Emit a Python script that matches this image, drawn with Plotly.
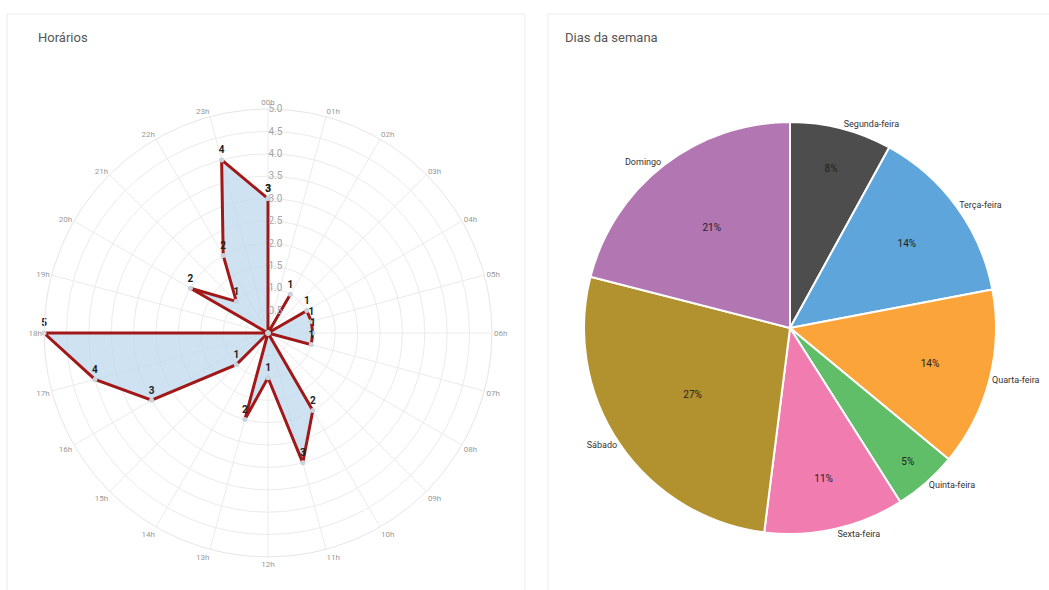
import plotly.graph_objects as go

# ---- data ----
hours = [f"{h:02d}h" for h in range(24)]
hour_counts = [3, 0, 1, 0, 1, 1, 1, 1, 0, 0, 2, 3, 1, 2, 0, 1, 3, 4, 5, 0, 2, 1, 2, 4]
radial_ticks = [0.5, 1.0, 1.5, 2.0, 2.5, 3.0, 3.5, 4.0, 4.5, 5.0]

days = ["Segunda-feira", "Terça-feira", "Quarta-feira", "Quinta-feira",
        "Sexta-feira", "Sábado", "Domingo"]
day_pct = [8, 14, 14, 5, 11, 27, 21]
day_colors = ["#4D4D4D", "#5DA5DA", "#FAA43A", "#60BD68", "#F17CB0", "#B2912F", "#B276B2"]

W, H = 1049, 590
FONT = "Roboto"

fig = go.Figure()

# radar
r_closed = hour_counts + hour_counts[:1]
th_closed = hours + hours[:1]
txt = [str(v) if v else "" for v in r_closed]
fig.add_trace(go.Scatterpolar(
    r=r_closed, theta=th_closed, mode="lines+markers+text",
    fill="toself", fillcolor="rgba(190,216,236,0.75)",
    line=dict(color="#a01818", width=3),
    marker=dict(size=5, color="#c9d3dc"),
    text=txt, textposition="top center",
    textfont=dict(family=FONT, size=10, color="#222", weight="bold"),
    showlegend=False, hoverinfo="skip", cliponaxis=False,
))

# pie: percentages inside
pie_cx, pie_cy, pie_r = 790, 328, 206
dom_x = [(pie_cx - pie_r) / W, (pie_cx + pie_r) / W]
dom_y = [(H - pie_cy - pie_r) / H, (H - pie_cy + pie_r) / H]
fig.add_trace(go.Pie(
    labels=days, values=day_pct, sort=False, direction="clockwise", rotation=0,
    marker=dict(colors=day_colors, line=dict(color="#ffffff", width=2)),
    texttemplate="%{value}%", textposition="inside", insidetextorientation="horizontal",
    insidetextfont=dict(family=FONT, size=10, color="#222"),
    domain=dict(x=dom_x, y=dom_y), showlegend=False, hoverinfo="skip",
))
# pie: category labels outside
fig.add_trace(go.Pie(
    labels=days, values=day_pct, sort=False, direction="clockwise", rotation=0,
    marker=dict(colors=["rgba(0,0,0,0)"] * len(days), line=dict(width=0)),
    texttemplate="%{label}", textposition="outside",
    outsidetextfont=dict(family=FONT, size=9, color="#333"),
    domain=dict(x=dom_x, y=dom_y), showlegend=False, hoverinfo="skip",
    automargin=False,
))

rad_cx, rad_cy, rad_r = 268, 333, 224
fig.update_layout(
    width=W, height=H, margin=dict(l=0, r=0, t=0, b=0),
    paper_bgcolor="#ffffff", plot_bgcolor="#ffffff",
    font=dict(family=FONT, color="#555"),
    polar=dict(
        domain=dict(x=[(rad_cx - rad_r) / W, (rad_cx + rad_r) / W],
                    y=[(H - rad_cy - rad_r) / H, (H - rad_cy + rad_r) / H]),
        bgcolor="#ffffff",
        radialaxis=dict(range=[0, 5], tickvals=radial_ticks, tickformat=".1f", angle=90,
                        tickangle=90, showline=False, gridcolor="#ebebeb", ticks="",
                        tickfont=dict(size=10, color="#a5a5a5", family=FONT)),
        angularaxis=dict(type="category", categoryarray=hours, rotation=90,
                         direction="clockwise", gridcolor="#ebebeb",
                         linecolor="#e6e6e6", ticks="",
                         tickfont=dict(size=8, color="#999", family=FONT)),
    ),
    shapes=[
        dict(type="rect", xref="paper", yref="paper", x0=7 / W, x1=525 / W,
             y0=-0.02, y1=(H - 14) / H, line=dict(color="#ececec", width=1),
             fillcolor="rgba(0,0,0,0)", layer="below"),
        dict(type="rect", xref="paper", yref="paper", x0=548 / W, x1=1.02,
             y0=-0.02, y1=(H - 14) / H, line=dict(color="#ececec", width=1),
             fillcolor="rgba(0,0,0,0)", layer="below"),
    ],
    annotations=[
        dict(text="Horários", x=36 / W, y=(H - 38) / H, xref="paper", yref="paper",
             xanchor="left", yanchor="middle", showarrow=False,
             font=dict(size=13, color="#555", family=FONT)),
        dict(text="Dias da semana", x=563 / W, y=(H - 38) / H, xref="paper", yref="paper",
             xanchor="left", yanchor="middle", showarrow=False,
             font=dict(size=13, color="#555", family=FONT)),
    ],
)

fig.write_html("out.html")
